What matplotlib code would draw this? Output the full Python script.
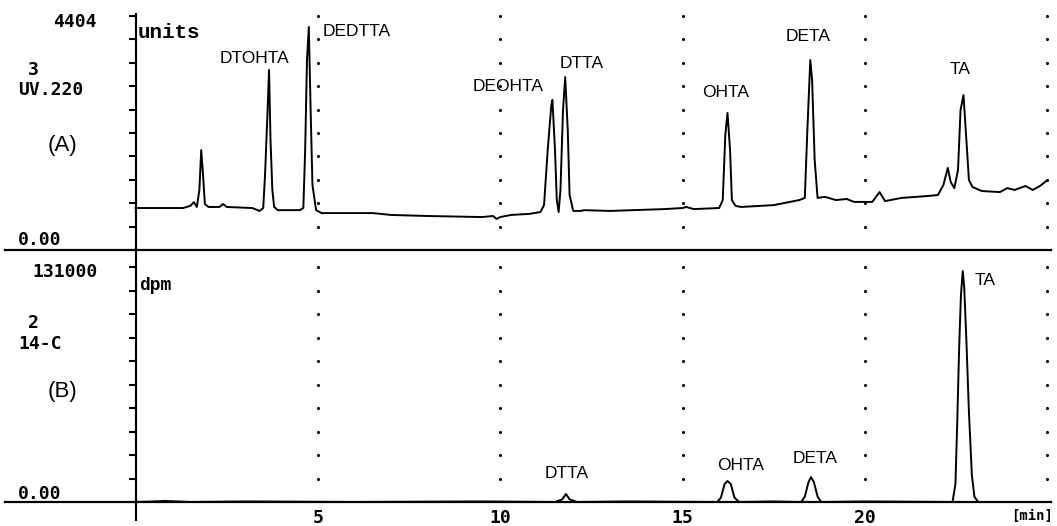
"""Radio-HPLC chromatogram: UV 220 nm trace (A) and 14-C flow trace (B)."""

import matplotlib

matplotlib.use("Agg")
import matplotlib.pyplot as plt
from matplotlib.lines import Line2D
from matplotlib.transforms import blended_transform_factory

# --- data ----------------------------------------------------------------
# (A) UV 220 trace, retention time in min and signal in units (full scale 4404)
uv_time = [
    0.0, 1.3, 1.5, 1.6, 1.68, 1.75, 1.8, 1.85, 1.9, 2.0, 2.3, 2.4, 2.5,
    3.2, 3.4, 3.5, 3.55, 3.62, 3.66, 3.7, 3.75, 3.8, 3.9, 4.5, 4.6, 4.65,
    4.7, 4.75, 4.8, 4.85, 4.95, 5.1, 6.5, 7.0, 8.0, 9.5, 9.8, 9.9, 10.0,
    10.3, 10.8, 11.1, 11.2, 11.3, 11.4, 11.43, 11.5, 11.55, 11.6, 11.65,
    11.72, 11.78, 11.85, 11.9, 12.0, 12.2, 12.3, 13.0, 14.5, 15.0, 15.1,
    15.3, 16.0, 16.1, 16.17, 16.23, 16.3, 16.35, 16.45, 16.6, 17.5, 18.2,
    18.35, 18.42, 18.5, 18.55, 18.62, 18.7, 18.9, 19.2, 19.5, 19.7, 20.2,
    20.4, 20.55, 21.0, 21.7, 22.0, 22.15, 22.27, 22.35, 22.45, 22.55,
    22.62, 22.7, 22.78, 22.85, 22.95, 23.2, 23.7, 23.9, 24.1, 24.4, 24.6,
    24.8, 25.0,
]
uv_signal = [
    790, 790, 830, 900, 810, 1130, 1880, 1410, 865, 810, 810, 865, 810,
    790, 735, 790, 1410, 2635, 3390, 2070, 1130, 810, 750, 750, 790, 1880,
    3575, 4197, 2635, 1225, 750, 695, 695, 660, 640, 620, 640, 585, 620,
    660, 680, 715, 845, 1880, 2730, 2825, 1880, 940, 715, 1130,
    2635, 3255, 2260, 1035, 735, 735, 750, 735, 770, 790, 810,
    770, 790, 940, 2165, 2580, 1880, 940, 830, 810, 845, 940,
    980, 2260, 3575, 3200, 1695, 980, 1000, 940, 960, 905, 905,
    1090, 920, 980, 1015, 1035, 1225, 1545, 1280, 1165, 1505,
    2635, 2915, 2070, 1315, 1185, 1110, 1090, 1165, 1130, 1205, 1130,
    1205, 1315,
]
uv_full_scale = 4404

# (B) 14-C trace, retention time in min and activity in dpm (full scale 131000)
c14_time = [
    0.0, 0.5, 0.8, 1.5, 3.0, 6.0, 9.5, 11.5, 11.7, 11.8, 11.9, 12.1,
    13.5, 15.95, 16.05, 16.15, 16.23, 16.32, 16.42, 16.55, 17.5, 18.25,
    18.35, 18.45, 18.52, 18.6, 18.7, 18.8, 20.0, 22.4, 22.48, 22.53,
    22.58, 22.63, 22.68, 22.72, 22.78, 22.85, 22.93, 23.0, 23.1, 25.0,
]
c14_dpm = [
    0, 300, 600, 0, 300, 0, 300, 0, 1500, 4460, 1500, 0,
    300, 0, 2500, 10000, 11700, 10000, 2500, 0, 300, 0,
    3000, 11000, 13900, 11000, 3000, 0, 300, 0, 10000, 45000,
    85000, 115000, 128700, 120000, 90000, 50000, 15000, 3000, 0, 0,
]
c14_full_scale = 131000

grid_minutes = [5, 10, 15, 20, 25]
tick_minutes = [5, 10, 15, 20]
tick_labels = ["5", "10", "15", "20"]

uv_peaks = ["DTOHTA", "DEDTTA", "DEOHTA", "DTTA", "OHTA", "DETA", "TA"]
uv_peak_pos = [(2.31, 3595), (5.13, 4103), (9.25, 3086), (11.63, 3519),
               (15.53, 2955), (17.83, 4009), (22.33, 3388)]
c14_peaks = ["DTTA", "OHTA", "DETA", "TA"]
c14_peak_pos = [(11.22, 16150), (15.94, 20600), (18.02, 24500), (23.0, 123650)]

MONO = "DejaVu Sans Mono"
TYPE = "Liberation Mono"
SANS = "Liberation Sans"

fig = plt.figure(figsize=(10.57, 5.26), dpi=100)
W, H = 1057, 526

ax_a = fig.add_axes([5 / W, 1 - 250 / H, 1046 / W, 234 / H])
ax_b = fig.add_axes([5 / W, 1 - 502 / H, 1046 / W, 235 / H])


def style_panel(ax, full_scale):
    ax.set_xlim(-3.58, 25.1)
    ax.set_ylim(0, full_scale)
    for side in ("top", "right"):
        ax.spines[side].set_visible(False)
    ax.spines["left"].set_position(("data", 0))
    ax.spines["left"].set_linewidth(1.5)
    ax.spines["bottom"].set_position(("data", 0))
    ax.spines["bottom"].set_linewidth(1.6)
    levels = [full_scale * k / 10 for k in range(11)]
    ax.set_yticks(levels)
    ax.set_yticklabels([])
    ax.tick_params(axis="y", direction="out", length=5, width=1.5)
    ax.set_xticks([])
    # dotted time grid: one dot per y tick level
    for t in grid_minutes:
        ax.plot([t] * 10, levels[1:], ls="none", marker="o", ms=1.2,
                color="black", clip_on=False)


style_panel(ax_a, uv_full_scale)
style_panel(ax_b, c14_full_scale)

ax_a.plot(uv_time, uv_signal, color="black", lw=1.4)
ax_b.plot(c14_time, c14_dpm, color="black", lw=1.4)

for name, (x, y) in zip(uv_peaks, uv_peak_pos):
    ax_a.text(x, y, name, fontsize=12.5, family=SANS, va="center")
for name, (x, y) in zip(c14_peaks, c14_peak_pos):
    ax_b.text(x, y, name, fontsize=12.5, family=SANS, va="center")

# continuous y axis line through both panels
trans = blended_transform_factory(ax_b.transData, fig.transFigure)
fig.add_artist(Line2D([0, 0], [1 - 520 / H, 1 - 14 / H], transform=trans,
                      color="black", lw=1.5))

# channel annotations in the left margin
def margin(x, y, s, **kw):
    fig.text(x / W, 1 - y / H, s, va="center", **kw)


bold = dict(family=MONO, fontweight="bold", fontsize=13)
margin(97, 22, "4404", ha="right", **bold)
margin(28, 70, "3", **bold)
margin(18, 90, "UV.220", **bold)
margin(48, 145, "(A)", family=SANS, fontsize=16)
margin(18, 240, "0.00", **bold)
margin(138, 33, "units", family=TYPE, fontweight="bold", fontsize=15)

margin(98, 272, "131000", ha="right", **bold)
margin(28, 323, "2", **bold)
margin(18, 344, "14-C", **bold)
margin(48, 392, "(B)", family=SANS, fontsize=16)
margin(18, 494, "0.00", **bold)
margin(139, 286, "dpm", family=TYPE, fontweight="bold", fontsize=13)

# time axis labels under the lower panel
tick_trans = blended_transform_factory(ax_b.transData, ax_b.transAxes)
for t, lab in zip(tick_minutes, tick_labels):
    ax_b.text(t, -0.03, lab, transform=tick_trans, ha="center", va="top",
              family=MONO, fontweight="bold", fontsize=13)
margin(1053, 516, "[min]", ha="right", family=MONO, fontweight="bold", fontsize=10)

fig.savefig("out.png", dpi=100)
plt.close(fig)
